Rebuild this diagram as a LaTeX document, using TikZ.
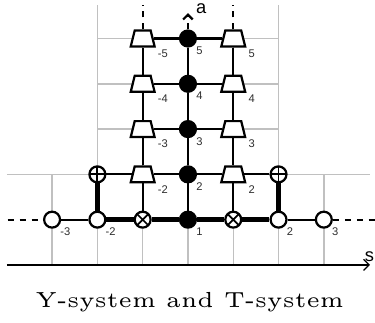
\documentclass[tikz,border=0pt]{standalone}
\usepackage{fontspec}
\usepackage{tikz}
\usetikzlibrary{shapes.geometric, arrows.meta, calc}
\newfontfamily\lblfont{Liberation Sans}
\definecolor{gridgray}{RGB}{192,192,192}
\definecolor{lbldark}{RGB}{45,45,45}
\tikzset{
  gridline/.style={line width=0.9pt, color=gridgray},
  ynode/.style={circle, draw=black, fill=white, minimum size=10pt,
    inner sep=0pt, line width=1.4pt},
  fnode/.style={ynode, fill=black},
  pnode/.style={ynode, path picture={
    \draw[line width=1.1pt] (path picture bounding box.north) -- (path picture bounding box.south)
      (path picture bounding box.west) -- (path picture bounding box.east);}},
  xnode/.style={ynode, path picture={
    \draw[line width=1.1pt] (path picture bounding box.north east) -- (path picture bounding box.south west)
      (path picture bounding box.north west) -- (path picture bounding box.south east);}},
  tnode/.style={trapezium, trapezium left angle=76, trapezium right angle=76,
    minimum width=10.5pt, minimum height=10pt, inner sep=1pt,
    draw=black, fill=white, line width=1.4pt},
  numlbl/.style={font=\lblfont\fontsize{7}{8}\selectfont, text=lbldark, inner sep=1pt},
  axlbl/.style={font=\lblfont\fontsize{11.5}{13}\selectfont, inner sep=0pt},
  link/.style={line width=1.4pt},
  thicklink/.style={line width=2.8pt},
  dashlink/.style={line width=1.4pt, dash pattern=on 4pt off 3.5pt},
  axis/.style={line width=0.8pt, -{Straight Barb[length=3.5pt, width=7pt]}},
  captext/.style={font=\fontsize{5}{6}\selectfont, scale=2.74, transform shape, anchor=base}
}
\begin{document}
\begin{tikzpicture}
  \useasboundingbox (-4.15,-1.28) rectangle (4.13,5.85);
  % Background grid
  \draw[gridline] (-4,2) -- (4.02,2);
  \foreach \a in {3,4,5} \draw[gridline] (-2,\a) -- (2,\a);
  \foreach \c in {-3,3} \draw[gridline] (\c,0) -- (\c,2);
  \foreach \c in {-2,2} \draw[gridline] (\c,0) -- (\c,5.74);
  \foreach \c in {-1,0,1} \draw[gridline] (\c,0) -- (\c,5);

  % s axis
  \coordinate (sbeg) at (-4,0);
  \coordinate (send) at (4.02,0);
  \draw[axis] (sbeg) -- (send);
  \node[axlbl, anchor=base west, xshift=-3.5pt, yshift=2pt] (slbl) at (send) {s};

  % Bottom row a=1
  \node[ynode, label={[numlbl, anchor=north west]south east:-3}] (L3) at (-3,1) {};
  \node[ynode, label={[numlbl, anchor=north west]south east:-2}] (L2) at (-2,1) {};
  \node[xnode] (Xl) at (-1,1) {};
  \node[fnode, label={[numlbl, anchor=north west]south east:1}] (F1) at (0,1) {};
  \node[xnode] (Xr) at (1,1) {};
  \node[ynode, label={[numlbl, anchor=north west]south east:2}] (R2) at (2,1) {};
  \node[ynode, label={[numlbl, anchor=north west]south east:3}] (R3) at (3,1) {};

  % Row a=2 ends
  \node[pnode] (Pl) at (-2,2) {};
  \node[pnode] (Pr) at (2,2) {};

  % Columns a=2..5
  \foreach \a in {2,...,5} {
    \node[tnode] (Tl\a) at (-1,\a) {};
    \node[numlbl, anchor=north west] (tl\a) at (Tl\a.bottom right corner) {-\a};
    \node[fnode, label={[numlbl, anchor=north west]south east:\a}] (F\a) at (0,\a) {};
    \node[tnode] (Tr\a) at (1,\a) {};
    \node[numlbl, anchor=north west] (tr\a) at (Tr\a.bottom right corner) {\a};
  }

  % Links on the bottom row
  \draw[link] (L3) -- (L2);
  \draw[thicklink] (L2) -- (Xl);
  \draw[thicklink] (Xl) -- (F1);
  \draw[thicklink] (F1) -- (Xr);
  \draw[thicklink] (Xr) -- (R2);
  \draw[link] (R2) -- (R3);
  \draw[thicklink] (L2) -- (Pl);
  \draw[thicklink] (R2) -- (Pr);

  % Links on rows a=2..5
  \draw[link] (Pl) -- (Tl2);
  \draw[link] (Tr2) -- (Pr);
  \foreach \a in {2,...,5} {
    \draw[link] (Tl\a) -- (F\a);
    \draw[link] (F\a) -- (Tr\a);
  }

  % Vertical links
  \draw[link] (Xl) -- (Tl2);
  \draw[link] (F1) -- (F2);
  \draw[link] (Xr) -- (Tr2);
  \foreach \a/\b in {2/3,3/4,4/5} {
    \draw[link] (Tl\a) -- (Tl\b);
    \draw[link] (F\a) -- (F\b);
    \draw[link] (Tr\a) -- (Tr\b);
  }

  % Dashed continuations
  \coordinate (lend) at (-3.98,1);
  \coordinate (rend) at (4.13,1);
  \coordinate (tltop) at (-1,5.74);
  \coordinate (trtop) at (1,5.74);
  \coordinate (atop) at (0,5.56);
  \draw[dashlink] (lend) -- (L3);
  \draw[dashlink] (R3) -- (rend);
  \draw[dashlink] (Tl5.north) -- (tltop);
  \draw[dashlink] (Tr5.north) -- (trtop);
  \draw[dashlink, -{Straight Barb[length=3pt, width=6pt]}] (F5) -- (atop);
  \node[axlbl, anchor=base west, xshift=5pt, yshift=-0.5pt] (albl) at (atop) {a};

  % Caption
  \node[captext] (cap) at (0.04,-0.93) {Y-system and T-system};
\end{tikzpicture}
\end{document}
